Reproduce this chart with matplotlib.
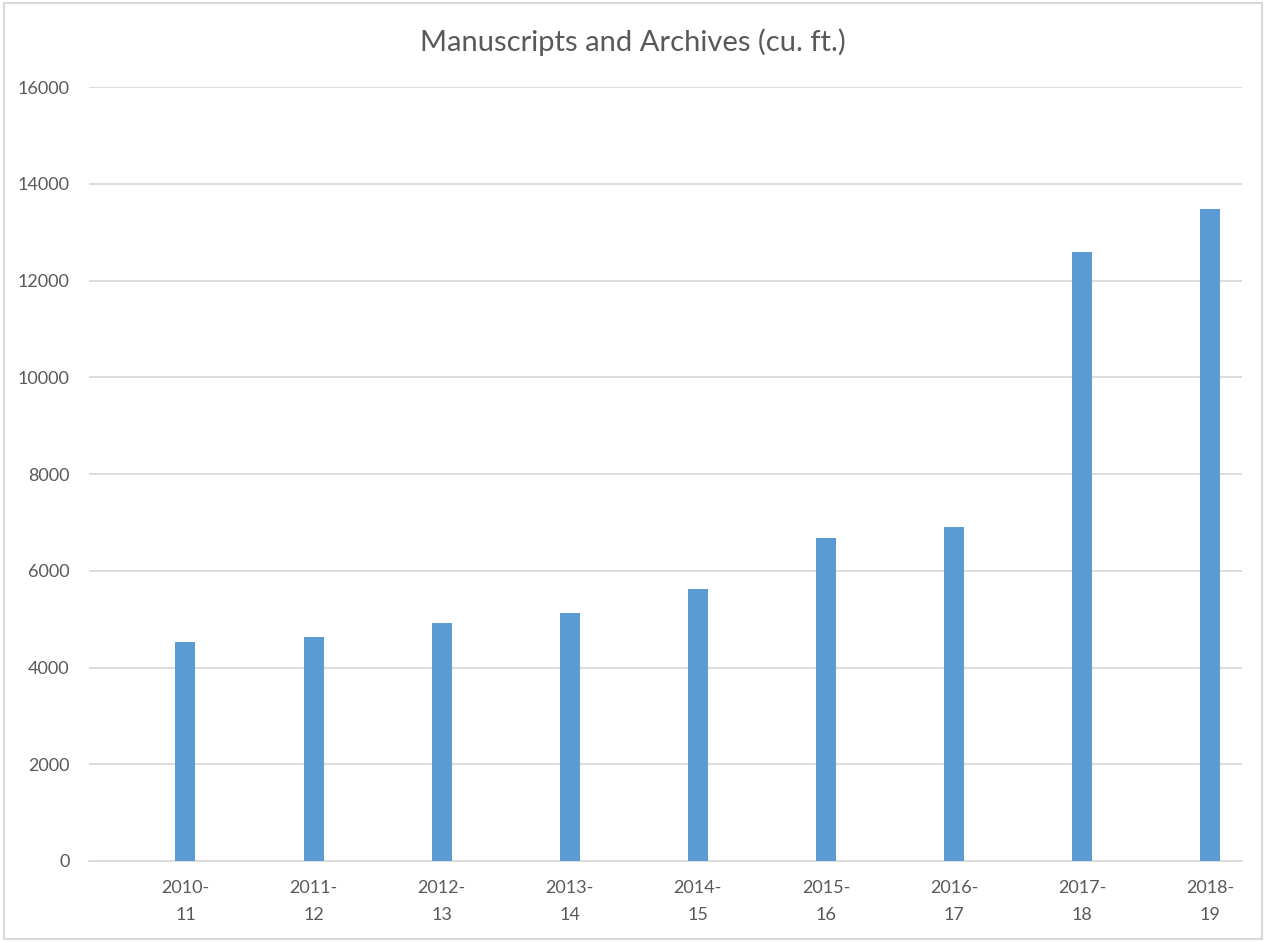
import matplotlib.pyplot as plt
from matplotlib.patches import Rectangle

years = ["2010-\n11", "2011-\n12", "2012-\n13", "2013-\n14", "2014-\n15",
         "2015-\n16", "2016-\n17", "2017-\n18", "2018-\n19"]
volume = [4520, 4640, 4930, 5130, 5630, 6670, 6900, 12580, 13480]
yticks = [0, 2000, 4000, 6000, 8000, 10000, 12000, 14000, 16000]

plt.rcParams['font.family'] = ['Lato', 'DejaVu Sans']
txt = "#595959"

fig = plt.figure(figsize=(12.66, 9.42), dpi=100)
ax = fig.add_axes([0.0703, 0.0860, 0.9107, 0.8216])

x = list(range(len(years)))
ax.bar(x, volume, width=0.156, color="#5B9BD5", zorder=3)

ax.set_xlim(-0.753, 8.247)
ax.set_ylim(0, 16000)
ax.set_yticks(yticks)
ax.set_yticklabels([str(v) for v in yticks])
ax.set_xticks(x)
ax.set_xticklabels(years, linespacing=1.8)

ax.grid(axis="y", color="#D9D9D9", linewidth=1.3, zorder=0)
for s in ["top", "right", "left"]:
    ax.spines[s].set_visible(False)
ax.spines["bottom"].set_color("#D9D9D9")
ax.spines["bottom"].set_linewidth(1.3)
ax.tick_params(axis="both", length=0, labelsize=13, colors=txt)
ax.tick_params(axis="y", pad=14)
ax.tick_params(axis="x", pad=14)

fig.text(0.5, 0.955, "Manuscripts and Archives (cu. ft.)", ha="center", va="center",
         fontsize=21, color=txt)

# outer chart border
fig.patches.append(Rectangle((0.003, 0.003), 0.994, 0.994, transform=fig.transFigure,
                             fill=False, edgecolor="#D9D9D9", linewidth=1.5))

fig.savefig("out.png", dpi=100)
